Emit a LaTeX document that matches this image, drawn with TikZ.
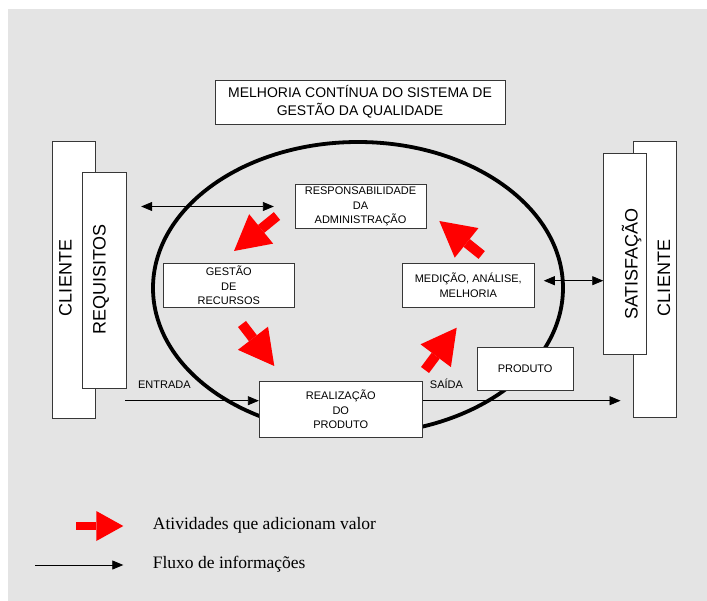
\documentclass[tikz,border=0pt]{standalone}
\usepackage{fontspec}
\setmainfont{Liberation Sans}
\newfontfamily\legendfont{Liberation Serif}
\usetikzlibrary{arrows.meta,calc}
\definecolor{panelgray}{RGB}{228,228,228}
\definecolor{edgegray}{RGB}{55,55,55}
\definecolor{arrowred}{RGB}{255,0,0}

\begin{document}
\begin{tikzpicture}[x=1pt,y=-1pt,
  box/.style={draw=edgegray, line width=0.9pt, fill=white, inner sep=0pt,
    align=center, font=\fontsize{11}{14.4}\selectfont},
  titlebox/.style={box, font=\fontsize{14}{18.5}\selectfont},
  sidetext/.style={font=\fontsize{18}{20}\selectfont, rotate=90, anchor=base, inner sep=0pt},
  flowlabel/.style={font=\fontsize{11}{13}\selectfont, inner sep=0pt},
  legendtext/.style={font=\legendfont\fontsize{17.5}{20}\selectfont, anchor=west, inner sep=0pt},
  flow/.style={line width=0.8pt, -{Triangle[length=11pt,width=9pt]}},
  flowboth/.style={line width=0.8pt, {Triangle[length=11pt,width=9pt]}-{Triangle[length=11pt,width=9pt]}},
  valuearrow/.style={draw=arrowred, line width=10pt,
    -{Triangle[length=35pt,width=38pt,line width=0pt]}},
  legendvalue/.style={draw=arrowred, line width=8pt,
    -{Triangle[length=27pt,width=30pt,line width=0pt]}},
  ]

% canvas and panel
\useasboundingbox (0,0) rectangle (707,601);
\fill[panelgray] (8,9) rectangle (707,601);

% improvement cycle
\draw[line width=3.8pt] (358,288) ellipse [x radius=205pt, y radius=146pt];

% title
\node[titlebox, minimum width=290pt, minimum height=44pt] (title) at (360,102)
  {MELHORIA CONTÍNUA DO SISTEMA DE\\GESTÃO DA QUALIDADE};

% customer side (input)
\node[box, minimum width=43pt, minimum height=276.3pt] (clienteL) at (74.2,279.85) {};
\node[box, minimum width=43.7pt, minimum height=216pt] (requisitos) at (104.15,280.3) {};
\node[sidetext] (clienteLtext) at (71.7,278) {CLIENTE};
\node[sidetext] (requisitostext) at (105.7,279.5) {REQUISITOS};

% customer side (output)
\node[box, minimum width=43pt, minimum height=276pt] (clienteR) at (655.2,279.7) {};
\node[box, minimum width=42.6pt, minimum height=200.6pt] (satisfacao) at (625,254) {};
\node[sidetext] (clienteRtext) at (670,278) {CLIENTE};
\node[sidetext] (satisfacaotext) at (637.5,264) {SATISFAÇÃO};

% process boxes
\node[box, minimum width=131pt, minimum height=44.4pt] (resp) at (360.5,206.5)
  {RESPONSABILIDADE\\DA\\ADMINISTRAÇÃO};
\node[box, minimum width=131pt, minimum height=44pt] (gestao) at (228.8,285.3)
  {GESTÃO\\DE\\RECURSOS};
\node[box, minimum width=132pt, minimum height=44pt] (medicao) at (468.3,285.3)
  {MEDIÇÃO, ANÁLISE,\\MELHORIA};
\node[box, minimum width=163pt, minimum height=55.6pt] (realizacao) at (340.8,409.5)
  {REALIZAÇÃO\\DO\\PRODUTO};
\node[box, minimum width=96.3pt, minimum height=43.3pt] (produto) at (525.15,368.65)
  {PRODUTO};

% information flows
\draw[flowboth] ([xshift=14.7pt]requisitos.east |- resp.west) -- ([xshift=-20.7pt]resp.west);
\coordinate (medout) at ([xshift=9pt,yshift=4.6pt]medicao.east);
\draw[flowboth] (medout) -- (satisfacao.west |- medout);
\coordinate (entradastart) at (125,400.7);
\draw[flow] (entradastart) -- (realizacao.west |- entradastart);
\draw[flow] (realizacao.east |- entradastart) -- ([xshift=-12.7pt]clienteR.west |- entradastart);
\node[flowlabel] (entrada) at (164.4,385) {ENTRADA};
\node[flowlabel] (saida) at (446.5,384) {SAÍDA};

% value-adding activities
\coordinate (v1s) at (277,216);  \coordinate (v1e) at (234,251);
\coordinate (v2s) at (242,324);  \coordinate (v2e) at (274.3,366);
\coordinate (v3s) at (425,370);  \coordinate (v3e) at (456.7,327.7);
\coordinate (v4s) at (481.7,255); \coordinate (v4e) at (439.3,221);
\draw[valuearrow] (v1s) -- (v1e);
\draw[valuearrow] (v2s) -- (v2e);
\draw[valuearrow] (v3s) -- (v3e);
\draw[valuearrow] (v4s) -- (v4e);

% legend
\coordinate (lv1) at (76,526);  \coordinate (lv2) at (123.3,526);
\draw[legendvalue] (lv1) -- (lv2);
\node[legendtext] (legvalue) at (152.7,525) {Atividades que adicionam valor};
\coordinate (lf1) at (35,565);  \coordinate (lf2) at (123.3,565);
\draw[flow] (lf1) -- (lf2);
\node[legendtext] (legflow) at (152.7,564) {Fluxo de informações};
\end{tikzpicture}
\end{document}
